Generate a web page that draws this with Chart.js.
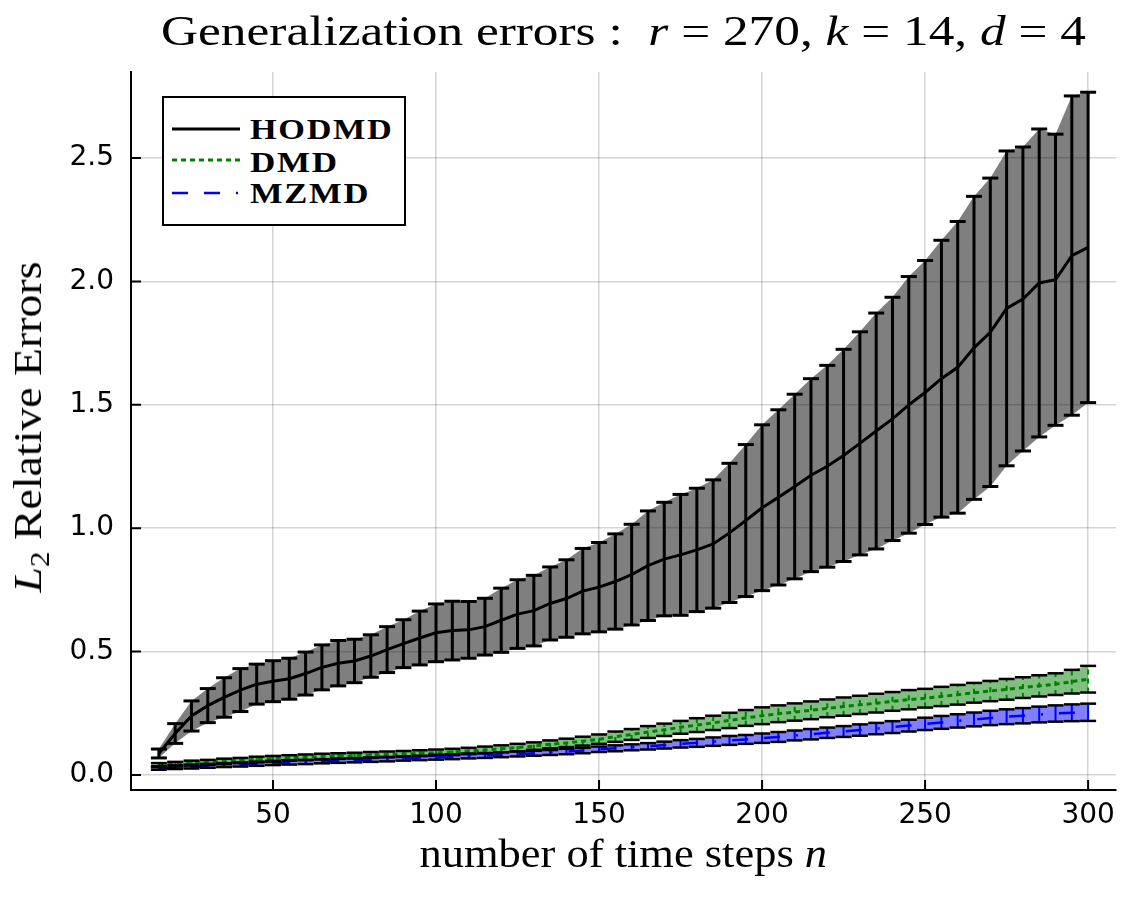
<!DOCTYPE html>
<html>
<head>
<meta charset="utf-8">
<script src="https://cdn.jsdelivr.net/npm/chart.js@4.4.1/dist/chart.umd.min.js"></script>
<style>
  html, body { margin: 0; padding: 0; background: #ffffff; }
  #wrap { position: relative; width: 1140px; height: 900px; overflow: hidden; background: #fff; }
  #c { position: absolute; left: 0; top: 0; }
  .serif { font-family: "Liberation Serif", "Times New Roman", serif; color: #000; white-space: nowrap; }
  .fit { display: inline-block; transform-origin: 50% 50%; }
  #title { position: absolute; left: 131px; width: 985px; top: 7px; text-align: center; font-size: 42px; line-height: 48px; }
  #xlabel { position: absolute; left: 131px; width: 985px; top: 831px; text-align: center; font-size: 40px; line-height: 46px; }
  #ylabel { position: absolute; left: 29.5px; top: 427px; font-size: 40px; line-height: 46px;
            transform: translate(-50%, -50%) rotate(-90deg); }
  .sub { font-size: 0.68em; position: relative; top: 0.28em; }
  #legend { position: absolute; left: 162px; top: 96px; width: 244px; height: 130px; box-sizing: border-box;
            border: 2px solid #000; background: #fff; }
  .lg-line { position: absolute; left: 8px; width: 68px; height: 10px; }
  .lg-text { position: absolute; left: 86px; font-family: "Liberation Serif", "Times New Roman", serif; font-weight: bold;
             font-size: 30px; line-height: 30px; letter-spacing: 1.5px; color: #000; white-space: nowrap;
             display: inline-block; transform-origin: 0 50%; }
</style>
</head>
<body>
<div id="wrap">
  <canvas id="c" width="1140" height="900"></canvas>
  <div id="title" class="serif"><span class="fit" id="titleText">Generalization errors :&nbsp; <i>r</i> = 270, <i>k</i> = 14, <i>d</i> = 4</span></div>
  <div id="xlabel" class="serif"><span class="fit" id="xText">number of time steps <i>n</i></span></div>
  <div id="ylabel" class="serif"><span class="fit" id="yText"><i>L</i><span class="sub">2</span> Relative Errors</span></div>
  <div id="legend">
    <svg class="lg-line" style="top:26px" width="68" height="10"><line x1="0" y1="5" x2="68" y2="5" stroke="#000" stroke-width="3"/></svg>
    <svg class="lg-line" style="top:57px" width="68" height="10"><line x1="0" y1="5" x2="68" y2="5" stroke="rgb(0,128,0)" stroke-width="3" stroke-dasharray="5,4"/></svg>
    <svg class="lg-line" style="top:90px" width="68" height="10"><line x1="0" y1="5" x2="68" y2="5" stroke="rgb(0,0,255)" stroke-width="2.5" stroke-dasharray="16,16,16,16,2,16"/></svg>
    <span class="lg-text" id="lg0" style="top:16px">HODMD</span>
    <span class="lg-text" id="lg1" style="top:48.5px">DMD</span>
    <span class="lg-text" id="lg2" style="top:80px">MZMD</span>
  </div>
</div>
<script>
// ---------------- data ----------------
const xSteps = [15,20,25,30,35,40,45,50,55,60,65,70,75,80,85,90,95,100,105,110,115,120,125,130,135,140,145,150,
  155,160,165,170,175,180,185,190,195,200,205,210,215,220,225,230,235,240,245,250,255,260,265,270,275,280,285,290,295,300];

const seriesNames = ['HODMD', 'DMD', 'MZMD'];

const hodmdMean = [0.087,0.168,0.239,0.281,0.314,0.344,0.368,0.380,0.390,0.411,0.436,0.453,0.462,0.482,0.508,0.532,0.555,0.576,
  0.585,0.588,0.601,0.627,0.652,0.666,0.695,0.715,0.745,0.761,0.784,0.812,0.848,0.875,0.892,0.912,0.936,0.981,1.031,1.083,
  1.125,1.169,1.215,1.251,1.295,1.344,1.394,1.443,1.500,1.550,1.606,1.652,1.731,1.794,1.891,1.929,1.994,2.007,2.105,2.138];
const hodmdErr = [0.018,0.040,0.061,0.069,0.080,0.087,0.081,0.083,0.083,0.087,0.091,0.092,0.088,0.086,0.093,0.097,0.109,0.117,
  0.119,0.115,0.115,0.130,0.139,0.143,0.148,0.157,0.173,0.181,0.193,0.204,0.222,0.230,0.245,0.250,0.260,0.282,0.308,0.336,
  0.355,0.374,0.391,0.409,0.430,0.452,0.478,0.493,0.520,0.535,0.561,0.591,0.614,0.625,0.638,0.616,0.624,0.590,0.647,0.629];

const dmdMean = [0.042,0.046,0.050,0.053,0.057,0.060,0.064,0.067,0.070,0.072,0.075,0.077,0.079,0.081,0.083,0.085,0.088,0.090,
  0.093,0.097,0.101,0.106,0.111,0.117,0.124,0.130,0.137,0.145,0.155,0.164,0.174,0.183,0.193,0.202,0.211,0.221,0.231,0.240,
  0.248,0.255,0.262,0.270,0.277,0.284,0.291,0.298,0.305,0.311,0.318,0.325,0.333,0.340,0.347,0.354,0.361,0.368,0.378,0.388];
const dmdErr = [0.006,0.007,0.008,0.008,0.009,0.009,0.010,0.010,0.010,0.011,0.011,0.011,0.011,0.012,0.012,0.012,0.012,0.013,
  0.013,0.013,0.014,0.014,0.015,0.015,0.016,0.017,0.018,0.019,0.021,0.022,0.024,0.025,0.026,0.028,0.029,0.031,0.032,0.034,
  0.034,0.035,0.036,0.036,0.037,0.037,0.038,0.038,0.039,0.038,0.039,0.040,0.040,0.041,0.042,0.042,0.043,0.044,0.048,0.054];

const mzmdMean = [0.026,0.029,0.032,0.035,0.038,0.041,0.044,0.047,0.050,0.052,0.055,0.057,0.059,0.062,0.064,0.067,0.069,0.072,
  0.074,0.077,0.079,0.082,0.085,0.088,0.091,0.095,0.099,0.104,0.108,0.112,0.116,0.121,0.126,0.130,0.135,0.140,0.144,0.149,
  0.154,0.160,0.165,0.171,0.176,0.182,0.188,0.194,0.200,0.207,0.213,0.219,0.225,0.231,0.236,0.240,0.245,0.249,0.252,0.254];
const mzmdErr = [0.005,0.005,0.006,0.006,0.006,0.007,0.007,0.007,0.008,0.008,0.008,0.008,0.008,0.009,0.009,0.009,0.009,0.010,
  0.010,0.010,0.010,0.010,0.010,0.010,0.010,0.011,0.011,0.011,0.012,0.012,0.013,0.014,0.015,0.016,0.017,0.018,0.018,0.019,
  0.020,0.020,0.021,0.021,0.022,0.023,0.023,0.024,0.024,0.025,0.026,0.027,0.028,0.029,0.030,0.031,0.032,0.033,0.034,0.035];

const xTickValues = [50, 100, 150, 200, 250, 300];
const yTickValues = [0.0, 0.5, 1.0, 1.5, 2.0, 2.5];

// ---------------- styles ----------------
const seriesData = [
  { mean: hodmdMean, err: hodmdErr },
  { mean: dmdMean, err: dmdErr },
  { mean: mzmdMean, err: mzmdErr }
];
const seriesStyle = [
  { color: '#000000', fill: 'rgba(0,0,0,0.5)', lw: 3, dash: [], barW: 3, barDash: [], capW: 3 },
  { color: 'rgb(0,128,0)', fill: 'rgba(0,128,0,0.5)', lw: 3, dash: [5, 4], barW: 2, barDash: [5, 4], capW: 2.5 },
  { color: 'rgb(0,0,255)', fill: 'rgba(0,0,255,0.5)', lw: 2.5, dash: [16, 16, 16, 16, 2, 16], barW: 2, barDash: [], capW: 2.5 }
];

const datasets = [];
seriesData.forEach((s, k) => {
  const st = seriesStyle[k];
  const base = datasets.length;
  const ord = 50 - 10 * k;
  datasets.push({
    label: seriesNames[k] + ' upper',
    data: xSteps.map((x, i) => ({ x: x, y: s.mean[i] + s.err[i] })),
    borderWidth: 0, pointRadius: 0, backgroundColor: st.fill,
    fill: { target: base + 1 }, order: ord
  });
  datasets.push({
    label: seriesNames[k] + ' lower',
    data: xSteps.map((x, i) => ({ x: x, y: s.mean[i] - s.err[i] })),
    borderWidth: 0, pointRadius: 0, fill: false, order: ord - 1
  });
  datasets.push({
    label: seriesNames[k],
    data: xSteps.map((x, i) => ({ x: x, y: s.mean[i] })),
    borderColor: st.color, borderWidth: st.lw, borderDash: st.dash,
    pointRadius: 0, fill: false, order: ord - 2
  });
  datasets.push({
    label: seriesNames[k] + ' bars',
    data: xSteps.flatMap((x, i) => [
      { x: x, y: s.mean[i] - s.err[i] },
      { x: x, y: s.mean[i] + s.err[i] },
      { x: x, y: null }
    ]),
    borderColor: st.color, borderWidth: st.barW, borderDash: st.barDash,
    pointRadius: 0, spanGaps: false, fill: false, order: ord - 3
  });
  datasets.push({
    label: seriesNames[k] + ' caps',
    data: xSteps.flatMap((x, i) => [
      { x: x, y: s.mean[i] - s.err[i] },
      { x: x, y: s.mean[i] + s.err[i] }
    ]),
    showLine: false, pointStyle: 'line', pointRadius: 8, pointHoverRadius: 8,
    pointBorderWidth: st.capW, pointBorderColor: '#000', pointBackgroundColor: '#000',
    fill: false, order: ord - 4
  });
});

// inward tick marks
const innerTicks = {
  id: 'innerTicks',
  afterDraw(chart) {
    const ctx = chart.ctx, xs = chart.scales.x, ys = chart.scales.y, a = chart.chartArea;
    ctx.save();
    ctx.strokeStyle = '#000';
    ctx.lineWidth = 2;
    ctx.beginPath();
    xTickValues.forEach(v => {
      const px = xs.getPixelForValue(v);
      ctx.moveTo(px, a.bottom); ctx.lineTo(px, a.bottom - 10);
    });
    yTickValues.forEach(v => {
      const py = ys.getPixelForValue(v);
      ctx.moveTo(a.left, py); ctx.lineTo(a.left + 10, py);
    });
    ctx.stroke();
    ctx.restore();
  }
};

const tickFont = { family: 'DejaVu Sans', size: 28 };

new Chart(document.getElementById('c'), {
  type: 'line',
  data: { datasets: datasets },
  options: {
    responsive: false,
    animation: false,
    devicePixelRatio: 1,
    layout: { padding: { left: 0, right: 24, top: 72, bottom: 0 } },
    elements: { line: { tension: 0 } },
    plugins: { legend: { display: false }, title: { display: false }, tooltip: { enabled: false } },
    events: [],
    scales: {
      x: {
        type: 'linear', min: 6.45, max: 308.55, z: 1,
        afterBuildTicks: s => { s.ticks = xTickValues.map(v => ({ value: v })); },
        afterFit: s => { s.height = 110; },
        ticks: { font: tickFont, color: '#000', padding: 9, autoSkip: false, maxRotation: 0, includeBounds: false,
                 callback: v => String(v) },
        grid: { color: 'rgba(0,0,0,0.17)', lineWidth: 1.5, drawTicks: false },
        border: { display: true, color: '#000', width: 2 }
      },
      y: {
        type: 'linear', min: -0.061, max: 2.849, z: 1,
        afterBuildTicks: s => { s.ticks = yTickValues.map(v => ({ value: v })); },
        afterFit: s => { s.width = 131; },
        ticks: { font: tickFont, color: '#000', padding: 17, autoSkip: false, includeBounds: false,
                 callback: v => Number(v).toFixed(1) },
        grid: { color: 'rgba(0,0,0,0.17)', lineWidth: 1.5, drawTicks: false },
        border: { display: true, color: '#000', width: 2 }
      }
    }
  },
  plugins: [innerTicks]
});

// fit text widths to the reference
function fitWidth(el, target, trailing) {
  const w = el.offsetWidth - (trailing || 0);
  if (w > 0) el.style.transform = 'scaleX(' + (target / w) + ')';
}
function doFit() {
  fitWidth(document.getElementById('titleText'), 925);
  fitWidth(document.getElementById('xText'), 408);
  fitWidth(document.getElementById('yText'), 331);
  fitWidth(document.getElementById('lg0'), 142, 1.5);
  fitWidth(document.getElementById('lg1'), 87, 1.5);
  fitWidth(document.getElementById('lg2'), 118, 1.5);
}
doFit();
if (document.fonts && document.fonts.ready) document.fonts.ready.then(doFit);
</script>
</body>
</html>
